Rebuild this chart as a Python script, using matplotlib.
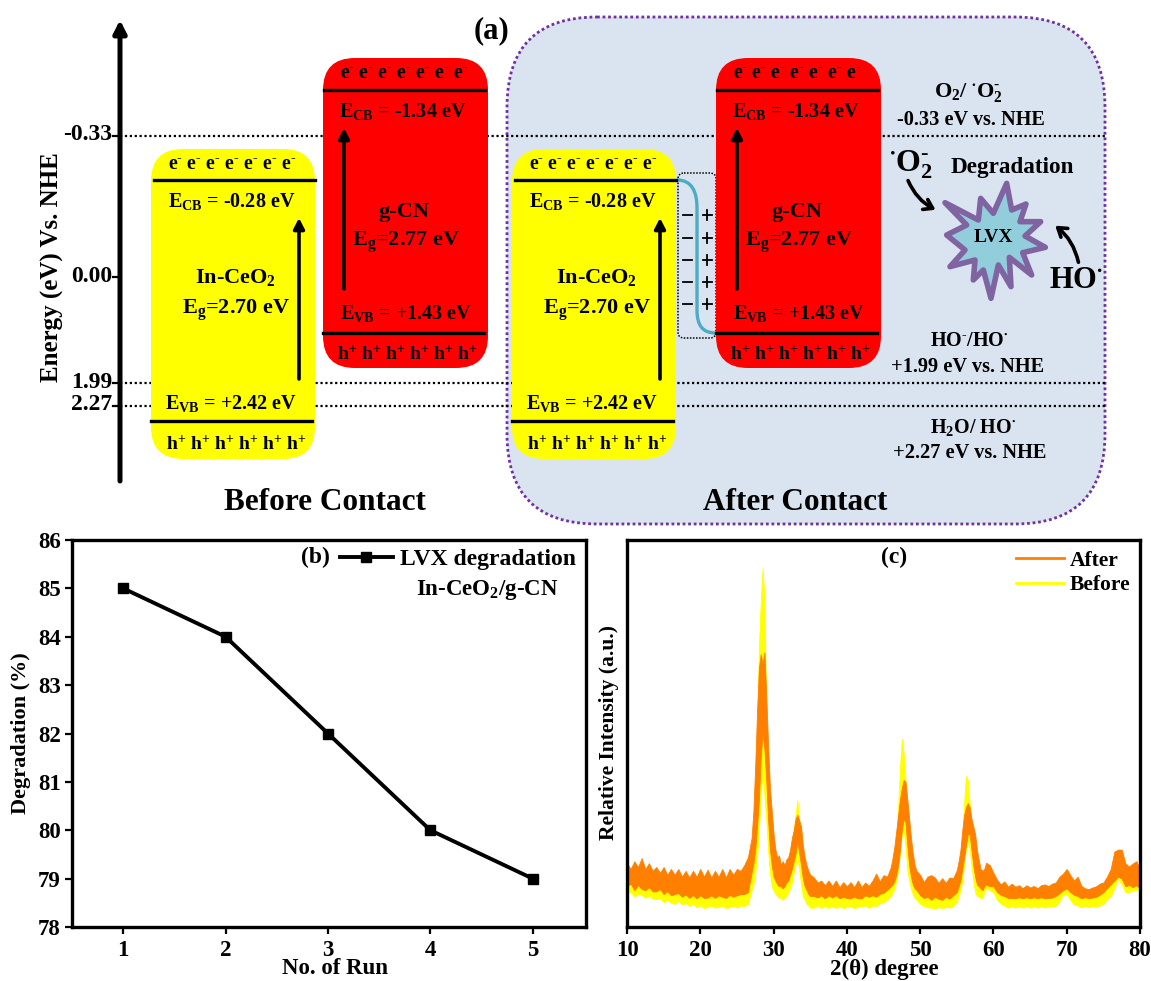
import numpy as np
import matplotlib
matplotlib.use('Agg')
import matplotlib.pyplot as plt
from matplotlib.lines import Line2D
from matplotlib.patches import FancyBboxPatch, FancyArrowPatch, Polygon, PathPatch
from matplotlib.path import Path

plt.rcParams['font.family'] = ['Liberation Serif', 'DejaVu Serif']
plt.rcParams['font.weight'] = 'bold'
plt.rcParams['axes.labelweight'] = 'bold'
plt.rcParams['mathtext.default'] = 'regular'

W, H = 1151, 981

# panel (a) - energy levels
energy_labels = ['-0.33', '0.00', '1.99', '2.27']
energy_rows = [136, 277, 383, 406]
energy_dotted = [True, False, True, True]

# panel (b) - recycling runs
runs = [1, 2, 3, 4, 5]
degradation = [85, 84, 82, 80, 79]

# panel (c) - XRD patterns, upper and lower edge of the noise band
theta_a = [10, 10.5, 11, 11.5, 12, 12.5, 13, 13.5, 14, 14.5, 15, 15.5, 16, 16.5, 17, 17.5, 18,
           18.5, 19, 19.5, 20, 20.5, 21, 21.5, 22, 22.5, 23, 23.5, 24, 24.5, 25, 25.5, 26, 26.5]
after_hi_a = [16.5, 15, 17, 15.5, 17.8, 15, 16.5, 14.5, 15.5, 14, 15.5, 13.5, 15, 13.5, 15, 13, 14.5,
              12.8, 14.5, 13, 15, 13, 14.8, 12.8, 14.5, 13, 15, 12.8, 15, 13.5, 15, 14.5, 16, 18]
after_lo_a = [10.5, 11.2, 9.5, 10.8, 9.8, 9.5, 10.3, 9.2, 9.2, 9.8, 8.5, 9.3, 8.2, 8.5, 8.8, 7.8, 8.4,
              7.5, 8.3, 7.4, 8.2, 7.5, 7.6, 8.2, 7.5, 8.2, 7.8, 7.5, 8.3, 7.8, 8.2, 8.5, 8.5, 9]
before_hi_a = [14, 14, 14.5, 14, 15, 14, 14, 13, 13, 13, 12, 12.5, 12, 13, 12, 12, 11.5,
               12, 12, 12.5, 11.5, 12, 11.5, 12.5, 11.5, 12, 12, 11.5, 12.5, 12, 12.5, 13, 13.5, 15]
before_lo_a = [8.5, 9.2, 7.8, 8.6, 8.3, 7.5, 8.2, 7.3, 7.2, 7.5, 6.4, 7.2, 6.2, 6, 6.7, 5.8, 6.2,
               5.4, 6.1, 5, 5.6, 4.9, 5.2, 5.6, 5, 5.2, 5.5, 4.9, 5.2, 5.5, 5, 5.6, 5.4, 6]

theta_b = [27, 27.25, 27.5, 27.75, 28, 28.25, 28.5, 28.75, 29, 29.25, 29.5, 29.75, 30, 30.25, 30.5, 30.75, 31,
           31.25, 31.5, 31.75, 32, 32.25, 32.5, 32.75, 33, 33.25, 33.5, 33.75, 34, 34.25, 34.5, 34.75, 35]
after_hi_b = [23, 30, 42, 56, 67, 70.5, 68, 71, 60, 47, 36, 30, 24, 20, 18, 18.5, 16,
              17, 16, 17.5, 18, 20, 23, 25, 28, 29, 27.5, 26, 21, 18, 16, 14.5, 13.5]
after_lo_b = [14, 16.5, 20, 26, 33, 44, 50, 46, 38, 28, 20, 16, 13, 12, 11, 10.5, 10.5,
              10, 10.5, 11.5, 12, 13.5, 15, 17, 19, 22, 19, 16, 12.5, 10.5, 9.5, 8.5, 8]
before_hi_b = [20, 25, 33, 50, 72, 84, 92.7, 85, 55, 42, 31, 25, 20, 17, 16, 17, 15,
               15.5, 15, 16, 17, 19, 22, 25, 29, 32.7, 28, 24, 19, 16, 14, 13, 12.5]
before_lo_b = [9.5, 11, 14, 18, 25, 34, 40, 34, 28, 20, 14, 10.5, 9.5, 8.5, 8, 7.5, 7.5,
               7, 7.5, 8, 9, 10, 11.5, 14, 16, 18, 15, 11, 8, 7, 6, 5.5, 5]

theta_c = [35.5, 36, 36.5, 37, 37.5, 38, 38.5, 39, 39.5, 40, 40.5,
           41, 41.5, 42, 42.5, 43, 43.5, 44, 44.5, 45, 45.5, 46]
after_hi_c = [12.8, 11.5, 12, 10.8, 12, 10.6, 12, 10.3, 11.6, 10.5, 11.6,
              10.3, 12, 10.3, 11.5, 10.6, 12, 13.8, 11.8, 13.4, 13, 15.5]
after_lo_c = [8, 7.6, 8.2, 7.4, 8.2, 7.6, 8.2, 7.4, 7.8, 7.5, 7.4,
              7.8, 7.4, 7.4, 8.2, 7.8, 8.2, 7.8, 8.6, 8.8, 9.6, 10.5]
before_hi_c = [10.5, 10, 10, 9.5, 10, 9.5, 10, 9.5, 9.5, 9.5, 9.5,
               9.5, 10, 9.5, 9.5, 9.5, 10, 11, 11, 11.5, 12, 14]
before_lo_c = [5, 5.6, 4.9, 5.6, 4.9, 5.4, 4.9, 5.4, 4.9, 5.2, 5.4,
               4.9, 5.2, 5.4, 5.6, 4.9, 5.6, 5.4, 6.1, 6.4, 7, 8]

theta_d = [46.25, 46.5, 46.75, 47, 47.25, 47.5, 47.75, 48, 48.25, 48.5, 48.75, 49, 49.25, 49.5]
after_hi_d = [18, 21, 25, 29, 33, 36, 38, 37.5, 33, 28, 23, 19, 16, 14.5]
after_lo_d = [11, 12, 13.5, 16, 20, 25, 28, 27, 21, 16, 13, 11, 10, 9.5]
before_hi_d = [15.5, 18.5, 23, 31, 41, 48.6, 45, 38, 31, 25, 20, 17, 14, 13]
before_lo_d = [9, 10, 12, 14.5, 19, 24, 25, 21, 15, 12, 10, 8.5, 7.5, 7]

theta_e = [50, 50.5, 51, 51.5, 52, 52.5, 53, 53.5, 54, 54.5, 55]
after_hi_e = [13.5, 11.6, 13, 13.4, 12.8, 11.4, 12.6, 11.4, 12.8, 12.6, 14.7]
after_lo_e = [8.2, 7.5, 7.8, 7, 7.8, 7.3, 7, 7.8, 7.3, 8.2, 9]
before_hi_e = [11, 10.5, 11, 10, 10.5, 10, 10, 10.5, 10, 11, 12]
before_lo_e = [6, 5.4, 5.1, 5, 4.8, 5.2, 4.8, 5.2, 5, 5.4, 6.5]

theta_f = [55.25, 55.5, 55.75, 56, 56.25, 56.5, 56.75, 57, 57.25, 57.5, 57.75, 58, 58.25, 58.5, 58.75, 59]
after_hi_f = [17, 20, 25, 29, 31, 32, 31, 28, 26, 24, 20, 17.3, 15, 14.5, 15, 16.6]
after_lo_f = [10.5, 12, 15, 18, 21, 24, 24, 20, 16, 13, 11, 10.5, 10, 9.5, 10.5, 11]
before_hi_f = [15.5, 18, 23, 32, 39, 38, 32, 27, 23, 20, 17, 14.5, 13, 12.5, 13, 13.5]
before_lo_f = [8, 9.5, 12, 16, 20, 22, 20, 16, 12, 9, 8, 7.8, 7.5, 7.5, 9, 10]

theta_g = [59.5, 60, 60.5, 61, 61.5, 62, 62.5, 63, 63.5, 64, 64.5, 65, 65.5, 66, 66.5, 67, 67.5, 68, 68.5, 69, 69.5,
           70, 70.5, 71, 71.5, 72, 72.5, 73, 73.5, 74, 74.5, 75, 75.5, 76, 76.5, 77, 77.5, 78, 78.5, 79, 79.5, 80]
after_hi_g = [16, 14, 12.2, 11, 11.8, 10.4, 11.2, 10.4, 10.8, 10, 10.8, 10.2, 10.6, 10, 10.8, 11, 10.6, 11.2, 11.5, 13, 13.8,
              15, 13.4, 12, 13, 10.6, 10, 9.8, 10.2, 10.5, 11.2, 11.5, 13, 15, 19.5, 20, 20, 16.5, 15.6, 16.4, 17, 15]
after_lo_g = [10.5, 10.5, 9, 8.3, 8, 7.5, 7.5, 7.4, 7.7, 7.4, 7.7, 7.4, 7.7, 7.4, 7.7, 7.4, 7.5, 7.6, 8, 8.7, 9.5,
              10, 9, 8.3, 8, 7.4, 7.7, 7.4, 7.6, 7.8, 8.3, 9, 10, 11, 12, 13, 12.5, 10.5, 10.9, 10.3, 10.8, 10]
before_hi_g = [14, 12, 10.5, 9.5, 9.5, 9, 9.5, 9, 9, 8.5, 9, 9, 8.5, 9, 8.5, 9, 9.5, 9.5, 10, 11, 12,
               12.5, 11, 10, 10, 9, 8.5, 8.5, 8.5, 9, 9.5, 10, 11, 13, 19, 20, 19, 15, 14.5, 14, 15, 14]
before_lo_g = [9.5, 9, 7, 6, 5.5, 5, 5.4, 5, 5.4, 5, 5.4, 5, 5.4, 5, 5.4, 5, 5.4, 5.3, 5.5, 6.5, 8.5,
               8.5, 7, 5.8, 5.5, 5.1, 5.5, 5.1, 5.5, 5.2, 5.6, 6, 7, 8, 10, 12.5, 11, 9, 9, 9.5, 9.5, 10]

theta = theta_a + theta_b + theta_c + theta_d + theta_e + theta_f + theta_g
after_hi = after_hi_a + after_hi_b + after_hi_c + after_hi_d + after_hi_e + after_hi_f + after_hi_g
after_lo = after_lo_a + after_lo_b + after_lo_c + after_lo_d + after_lo_e + after_lo_f + after_lo_g
before_hi = before_hi_a + before_hi_b + before_hi_c + before_hi_d + before_hi_e + before_hi_f + before_hi_g
before_lo = before_lo_a + before_lo_b + before_lo_c + before_lo_d + before_lo_e + before_lo_f + before_lo_g


def px_axes(fig, left, top, right, bottom):
    return fig.add_axes([left / W, 1 - bottom / H, (right - left) / W, (bottom - top) / H])


def label(ax, x, y, text, size=13.5, **kw):
    ax.text(x, y, text, fontsize=size, ha='center', va='center', color='black', **kw)


def rounded_box(ax, left, top, right, bottom, color):
    r = 32
    ax.add_patch(FancyBboxPatch((left + r, top + r), right - left - 2 * r, bottom - top - 2 * r,
                                boxstyle=f'round,pad={r},rounding_size={r}',
                                facecolor=color, edgecolor='none', zorder=3))


def up_arrow(ax, x, y0, y1):
    ax.annotate('', xy=(x, y1), xytext=(x, y0), zorder=5,
                arrowprops=dict(arrowstyle='-|>,head_width=0.32,head_length=0.62', color='black',
                                lw=2.6, shrinkA=0, shrinkB=0))


def draw_semiconductors(ax, dx_y, dx_r):
    electrons = ' '.join(['e$^{\u2010}$'] * 7)
    holes = ' '.join(['h$^{+}$'] * 6)
    # yellow box: In-CeO2
    rounded_box(ax, 151 + dx_y, 149, 315 + dx_y, 459, '#FFFF00')
    ax.plot([154 + dx_y, 315 + dx_y], [180, 180], color='black', lw=2.4, zorder=4)
    ax.plot([151 + dx_y, 312 + dx_y], [421, 421], color='black', lw=2.4, zorder=4)
    up_arrow(ax, 299 + dx_y, 379, 218)
    label(ax, 232 + dx_y, 165, electrons, 14.2, zorder=6)
    label(ax, 232 + dx_y, 202, 'E$_{CB}$ = -0.28 eV', 14.5, zorder=6)
    label(ax, 235 + dx_y, 278, 'In-CeO$_2$', 16, zorder=6)
    label(ax, 236 + dx_y, 310, 'E$_g$=2.70 eV', 16, zorder=6)
    label(ax, 231 + dx_y, 404, 'E$_{VB}$ = +2.42 eV', 14.5, zorder=6)
    label(ax, 236 + dx_y, 444, holes, 14, zorder=6)
    # red box: g-CN
    rounded_box(ax, 323 + dx_r, 58, 488 + dx_r, 368, '#FF0000')
    ax.plot([324 + dx_r, 485 + dx_r], [90, 90], color='black', lw=2.4, zorder=4)
    ax.plot([323 + dx_r, 484 + dx_r], [333, 333], color='black', lw=2.4, zorder=4)
    up_arrow(ax, 344 + dx_r, 289, 128)
    label(ax, 404 + dx_r, 74, electrons, 14.2, zorder=6)
    label(ax, 403 + dx_r, 112, 'E$_{CB}$ = -1.34 eV', 14.5, zorder=6)
    label(ax, 404 + dx_r, 212, 'g-CN', 16, zorder=6)
    label(ax, 406 + dx_r, 242, 'E$_g$=2.77 eV', 16, zorder=6)
    label(ax, 406 + dx_r, 314, 'E$_{VB}$ = +1.43 eV', 14.5, zorder=6)
    label(ax, 407 + dx_r, 354, holes, 14, zorder=6)


fig = plt.figure(figsize=(W / 100, H / 100), dpi=100, facecolor='white')

# panel (a) is drawn in pixel coordinates
ax_a = fig.add_axes([0, 0, 1, 1])
ax_a.set_xlim(0, W)
ax_a.set_ylim(H, 0)
ax_a.axis('off')

ax_a.add_patch(FancyBboxPatch((597, 107), 418, 327, boxstyle='round,pad=90,rounding_size=90',
                              facecolor='#DAE3F0', edgecolor='#7030A0', lw=2, ls=(0, (1, 1)), zorder=1))

for row, text, dotted in zip(energy_rows, energy_labels, energy_dotted):
    if dotted:
        ax_a.plot([120, 1105], [row, row], color='black', lw=1.6, ls=(0, (1, 1.2)), zorder=2)
    ax_a.plot([113, 120], [row, row], color='black', lw=1.6, zorder=2)
    ax_a.text(112, row - 1, text, fontsize=17, ha='right', va='center')

ax_a.annotate('', xy=(120, 20), xytext=(120, 481),
              arrowprops=dict(arrowstyle='-|>,head_width=0.38,head_length=0.75', color='black',
                              lw=3.6, shrinkA=0, shrinkB=0), zorder=5)
ax_a.text(52, 267, 'Energy (eV) Vs. NHE', fontsize=18, rotation=90, ha='center', va='center')

draw_semiconductors(ax_a, 0, 0)
draw_semiconductors(ax_a, 361, 393)

label(ax_a, 492, 31, '(a)', 22)
label(ax_a, 325, 502, 'Before Contact', 22.5)
label(ax_a, 795, 502, 'After Contact', 22.5)

# charge region between the two boxes
ax_a.add_patch(FancyBboxPatch((682, 177), 30, 157, boxstyle='round,pad=4,rounding_size=6', facecolor='none',
                              edgecolor='black', lw=1.1, ls=(0, (1, 1)), zorder=2))
teal = Path([(677, 180), (692, 180), (697, 192), (697, 208), (697, 310), (697, 326), (703, 333), (716, 333)],
            [Path.MOVETO, Path.CURVE4, Path.CURVE4, Path.CURVE4, Path.LINETO, Path.CURVE4, Path.CURVE4, Path.CURVE4])
ax_a.add_patch(PathPatch(teal, facecolor='none', edgecolor='#4BACC6', lw=2.4, zorder=2))
for row in [215, 238, 260, 282, 304]:
    ax_a.plot([683, 692], [row, row], color='black', lw=1.3, zorder=3)
    ax_a.plot([703, 712], [row, row], color='black', lw=1.3, zorder=3)
    ax_a.plot([707.5, 707.5], [row - 5, row + 5], color='black', lw=1.3, zorder=3)

# right hand side, redox potentials and LVX star
label(ax_a, 968, 92, 'O$_2$/ $^{\\bullet}$O$_2^{\u2010}$', 16)
label(ax_a, 971, 120, '-0.33 eV vs. NHE', 14.6)
label(ax_a, 911, 165, '$^{\\bullet}$O$_2^{\u2010}$', 23)
label(ax_a, 1012, 167, 'Degradation', 16.7)
label(ax_a, 1076, 281, 'HO$^{\\bullet}$', 22)
label(ax_a, 969, 341, 'HO$^{\u2010}$/HO$^{\\bullet}$', 14.5)
label(ax_a, 968, 367, '+1.99 eV vs. NHE', 14.7)
label(ax_a, 973, 427, 'H$_2$O/ HO$^{\\bullet}$', 14.5)
label(ax_a, 970, 453, '+2.27 eV vs. NHE', 14.7)

star = [(230, 40), (245, 120), (288, 102), (270, 155), (332, 155), (285, 198), (346, 232), (278, 248),
        (305, 315), (238, 262), (243, 350), (205, 285), (183, 385), (160, 300), (130, 330), (135, 270),
        (60, 290), (105, 240), (50, 195), (110, 165), (45, 98), (145, 150), (152, 85), (190, 130)]
star_px = [(930 + sx / 3, 170 + sy / 3) for sx, sy in star]
ax_a.add_patch(Polygon(star_px, closed=True, facecolor='#92CDDC', edgecolor='#8064A2', lw=4,
                       joinstyle='round', zorder=3))
label(ax_a, 993, 238, 'LVX', 14, zorder=4)

ax_a.add_patch(FancyArrowPatch((907, 178), (938, 211), connectionstyle='arc3,rad=0.2',
                               arrowstyle='->,head_width=4,head_length=6', color='black', lw=2.6, zorder=4))
ax_a.add_patch(FancyArrowPatch((1079, 265), (1053, 224), connectionstyle='arc3,rad=0.2',
                               arrowstyle='->,head_width=4,head_length=6', color='black', lw=2.6, zorder=4))

# panel (b)
ax_b = px_axes(fig, 72, 540, 586, 927)
ax_b.plot(runs, degradation, color='black', lw=2.8, marker='s', ms=6.5, label='LVX degradation')
ax_b.set_xlim(0.5, 5.52)
ax_b.set_ylim(78, 86)
ax_b.set_xticks(runs)
ax_b.set_yticks([78, 79, 80, 81, 82, 83, 84, 85, 86])
ax_b.tick_params(axis='x', direction='out', length=5, width=1.6, labelsize=16.5, pad=4)
ax_b.tick_params(axis='y', direction='out', length=5, width=1.6, labelsize=16.5, pad=3)
for spine in ax_b.spines.values():
    spine.set_linewidth(2.4)
fig.text(335 / W, 1 - 969 / H, 'No. of Run', fontsize=16.5, ha='center', va='center')
fig.text(21 / W, 1 - 733 / H, 'Degradation (%)', fontsize=16, rotation=90, ha='center', va='center')
fig.text(315 / W, 1 - 557 / H, '(b)', fontsize=17, ha='center', va='center')
ax_b.legend(loc='center left', bbox_to_anchor=(0.521, 0.95), frameon=False, fontsize=17, handlelength=2.25,
            handletextpad=0.3, borderpad=0, borderaxespad=0)
fig.text(487 / W, 1 - 590 / H, 'In-CeO$_2$/g-CN', fontsize=16.5, ha='center', va='center')

# panel (c)
ax_c = px_axes(fig, 627, 540, 1140, 927)
ax_c.fill_between(theta, before_lo, before_hi, color='#FFFF00', lw=0.6)
ax_c.fill_between(theta, after_lo, after_hi, color='#FF8000', lw=0.6)
ax_c.set_xlim(10, 80)
ax_c.set_ylim(0, 100)
ax_c.set_xticks([10, 20, 30, 40, 50, 60, 70, 80])
ax_c.set_yticks([])
ax_c.tick_params(axis='x', direction='out', length=5, width=1.6, labelsize=16.5, pad=4)
for spine in ax_c.spines.values():
    spine.set_linewidth(2.4)
fig.text(884 / W, 1 - 969 / H, '2(\u03b8) degree', fontsize=16.5, ha='center', va='center')
fig.text(609 / W, 1 - 733 / H, 'Relative Intensity (a.u.)', fontsize=15.5, rotation=90, ha='center', va='center')
fig.text(894 / W, 1 - 557 / H, '(c)', fontsize=17, ha='center', va='center')
handles = [Line2D([], [], color='#FF8000', lw=2), Line2D([], [], color='#FFFF00', lw=2)]
ax_c.legend(handles, ['After', 'Before'], loc='upper left', bbox_to_anchor=(0.758, 0.972), frameon=False,
            fontsize=15.5, handlelength=2.23, handletextpad=0.28, labelspacing=0.2, borderpad=0, borderaxespad=0)

fig.savefig('out.png', dpi=100)
